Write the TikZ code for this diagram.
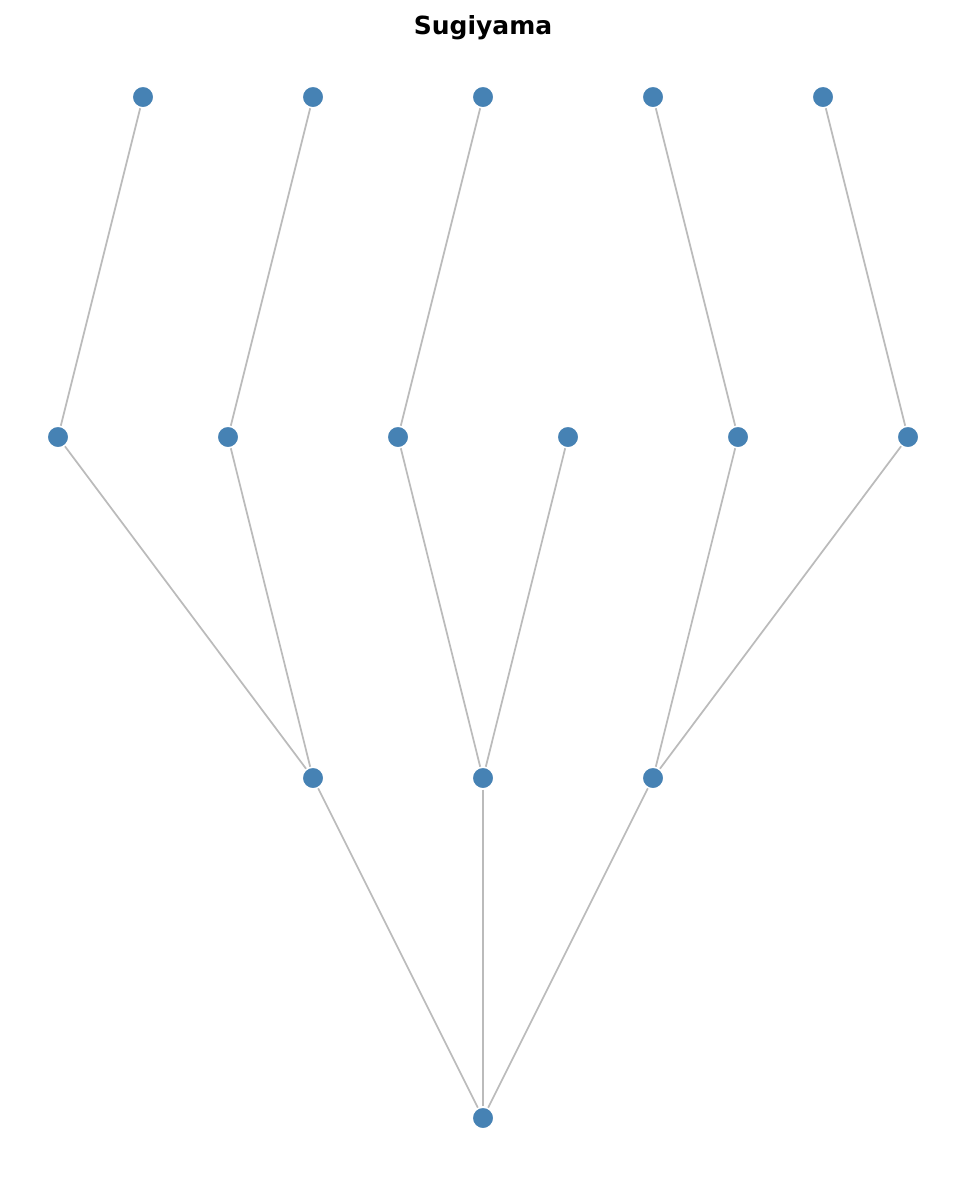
\documentclass[tikz,border=0pt]{standalone}
\usepackage{fontspec}
\setmainfont{DejaVu Sans}
\definecolor{nodeblue}{RGB}{70,130,180}
\definecolor{edgegray}{RGB}{187,187,187}
\tikzset{
  vert/.style={draw=white, line width=1.1pt, fill=nodeblue, circle, inner sep=0pt, minimum size=15.6pt},
  link/.style={draw=edgegray, line width=1.25pt}
}
\begin{document}
\begin{tikzpicture}[x=0.72pt, y=-0.72pt]
        \useasboundingbox (0, 0) rectangle (965, 1184);
        \node (title) at (483, 28) {\fontsize{18}{20}\selectfont\bfseries Sugiyama};

        % top layer
        \node[vert] (a1) at (143, 97) {};
        \node[vert] (a2) at (313, 97) {};
        \node[vert] (a3) at (483, 97) {};
        \node[vert] (a4) at (653, 97) {};
        \node[vert] (a5) at (823, 97) {};

        % second layer
        \node[vert] (b1) at (58, 437) {};
        \node[vert] (b2) at (228, 437) {};
        \node[vert] (b3) at (398, 437) {};
        \node[vert] (b4) at (568, 437) {};
        \node[vert] (b5) at (738, 437) {};
        \node[vert] (b6) at (908, 437) {};

        % third layer
        \node[vert] (c1) at (313, 778) {};
        \node[vert] (c2) at (483, 778) {};
        \node[vert] (c3) at (653, 778) {};

        % root
        \node[vert] (root) at (483, 1118) {};

        \draw[link] (a1) -- (b1);
        \draw[link] (a2) -- (b2);
        \draw[link] (a3) -- (b3);
        \draw[link] (a4) -- (b5);
        \draw[link] (a5) -- (b6);
        \draw[link] (b1) -- (c1);
        \draw[link] (b2) -- (c1);
        \draw[link] (b3) -- (c2);
        \draw[link] (b4) -- (c2);
        \draw[link] (b5) -- (c3);
        \draw[link] (b6) -- (c3);
        \draw[link] (c1) -- (root);
        \draw[link] (c2) -- (root);
        \draw[link] (c3) -- (root);
    \end{tikzpicture}
\end{document}
